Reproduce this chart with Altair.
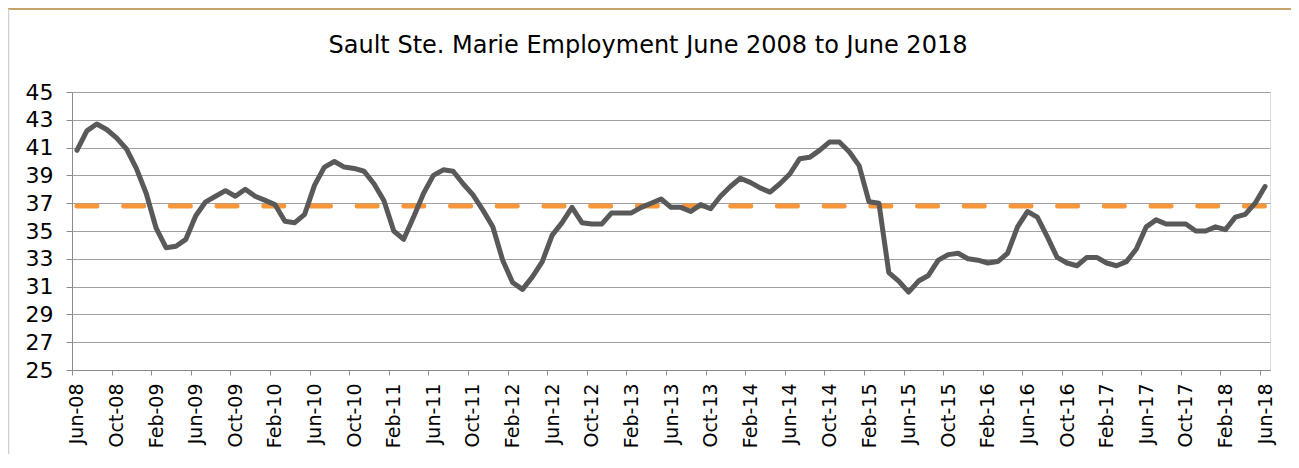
import altair as alt
import pandas as pd

# Monthly employment (thousands), Jun-08 .. Jun-18 (121 months)
employment = [
    40.8, 42.2, 42.7, 42.3, 41.7, 40.9, 39.5, 37.7, 35.2, 33.8,
    33.9, 34.4, 36.1, 37.1, 37.5, 37.9, 37.5, 38.0, 37.5, 37.2,
    36.9, 35.7, 35.6, 36.2, 38.3, 39.6, 40.0, 39.6, 39.5, 39.3,
    38.4, 37.2, 35.0, 34.4, 36.0, 37.7, 39.0, 39.4, 39.3, 38.4,
    37.6, 36.5, 35.3, 32.9, 31.3, 30.8, 31.7, 32.8, 34.7, 35.6,
    36.7, 35.6, 35.5, 35.5, 36.3, 36.3, 36.3, 36.7, 37.0, 37.3,
    36.7, 36.7, 36.4, 36.9, 36.6, 37.5, 38.2, 38.8, 38.5, 38.1,
    37.8, 38.4, 39.1, 40.2, 40.3, 40.8, 41.4, 41.4, 40.7, 39.7,
    37.1, 37.0, 32.0, 31.4, 30.6, 31.4, 31.8, 32.9, 33.3, 33.4,
    33.0, 32.9, 32.7, 32.8, 33.4, 35.3, 36.4, 36.0, 34.6, 33.1,
    32.7, 32.5, 33.1, 33.1, 32.7, 32.5, 32.8, 33.7, 35.3, 35.8,
    35.5, 35.5, 35.5, 35.0, 35.0, 35.3, 35.1, 36.0, 36.2, 37.0,
    38.2,
]
average_value = 36.8

tick_labels = [
    "Jun-08", "Oct-08", "Feb-09", "Jun-09", "Oct-09", "Feb-10", "Jun-10",
    "Oct-10", "Feb-11", "Jun-11", "Oct-11", "Feb-12", "Jun-12", "Oct-12",
    "Feb-13", "Jun-13", "Oct-13", "Feb-14", "Jun-14", "Oct-14", "Feb-15",
    "Jun-15", "Oct-15", "Feb-16", "Jun-16", "Oct-16", "Feb-17", "Jun-17",
    "Oct-17", "Feb-18", "Jun-18",
]
y_ticks = [25, 27, 29, 31, 33, 35, 37, 39, 41, 43, 45]
title_text = "Sault Ste. Marie Employment June 2008 to June 2018"

FONT = "DejaVu Sans"
W, H = 1198, 278

df = pd.DataFrame({
    "idx": list(range(len(employment))),
    "employment": employment,
    "average": [average_value] * len(employment),
})

label_expr = "[" + ",".join("'%s'" % t for t in tick_labels) + "][round(datum.value / 4)]"

x_scale = alt.Scale(domain=[-0.5, len(employment) - 0.5], nice=False, zero=False)
x_axis = alt.Axis(
    values=list(range(0, len(employment), 4)),
    labelExpr=label_expr,
    labelAngle=-90,
    labelFont=FONT,
    labelFontSize=19,
    labelColor="#000000",
    labelPadding=8,
    tickOffset=-4.95,
    labelOffset=4.95,
    tickSize=5,
    tickColor="#8C8C8C",
    domainColor="#8C8C8C",
    grid=False,
    title=None,
    labelOverlap=False,
    labelBound=False,
    labelFlush=False,
)

y_scale = alt.Scale(domain=[25, 45], nice=False, zero=False)
y_axis = alt.Axis(
    values=y_ticks,
    labelFont=FONT,
    labelFontSize=22,
    labelColor="#000000",
    labelPadding=13,
    tickSize=6,
    tickColor="#8C8C8C",
    domainColor="#8C8C8C",
    gridColor="#A0A0A0",
    gridWidth=1.2,
    title=None,
    labelOverlap=False,
    labelFlush=False,
)

base = alt.Chart(df)

avg_line = base.mark_line(
    color="#F7963A", strokeWidth=5, strokeDash=[20, 26.7], strokeCap="round"
).encode(
    x=alt.X("idx:Q", scale=x_scale, axis=x_axis),
    y=alt.Y("average:Q", scale=y_scale, axis=y_axis),
)

emp_line = base.mark_line(
    color="#595959", strokeWidth=5, strokeJoin="round", strokeCap="round"
).encode(
    x=alt.X("idx:Q", scale=x_scale, axis=x_axis),
    y=alt.Y("employment:Q", scale=y_scale, axis=y_axis),
)

frame_df = pd.DataFrame({"k": [0]})
top_border = alt.Chart(frame_df).mark_rule(color="#C5A36A", strokeWidth=2).encode(
    x=alt.value(-64), x2=alt.value(W + 21), y=alt.value(-83)
)
left_border = alt.Chart(frame_df).mark_rule(color="#D0D0D0", strokeWidth=1.5).encode(
    x=alt.value(-63.5), y=alt.value(-83), y2=alt.value(H + 90)
)
title_mark = alt.Chart(frame_df).mark_text(
    font=FONT, fontSize=24, color="#000000", align="center", baseline="alphabetic"
).encode(
    x=alt.value(576), y=alt.value(-39), text=alt.value(title_text)
)

chart = alt.layer(top_border, left_border, title_mark, avg_line, emp_line).properties(
    width=W,
    height=H,
    autosize=alt.AutoSizeParams(type="none"),
    padding={"left": 64, "top": 84, "right": 21, "bottom": 84},
).configure_view(stroke=None).configure_axis(
    labelOverlap=False
).configure(background="white")

chart.save("out.html", embed_options={"renderer": "svg", "actions": False})
